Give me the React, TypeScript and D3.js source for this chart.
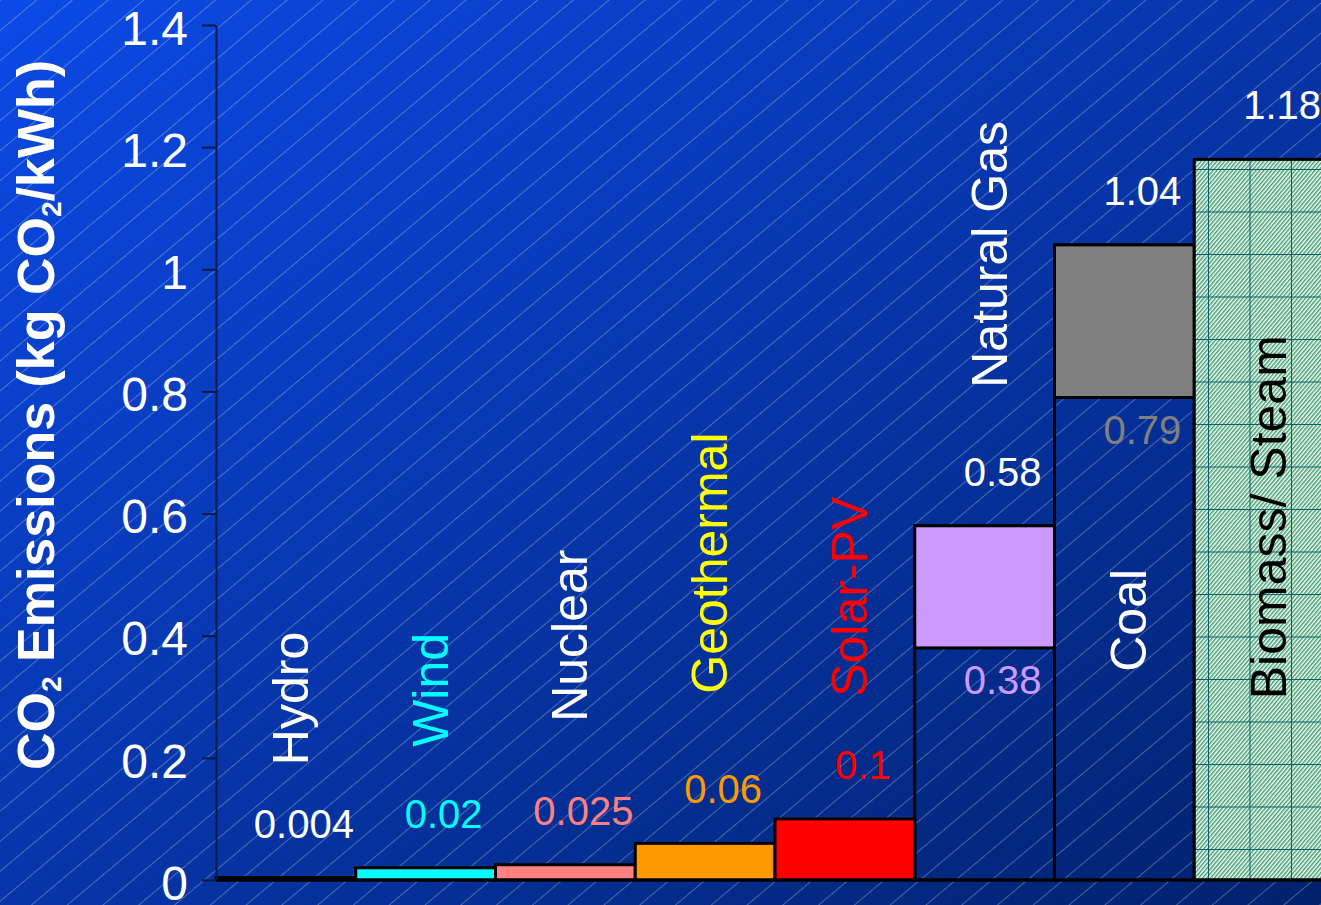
import React, { useEffect, useRef } from 'react'
import * as d3 from 'd3'

// kg CO2 per kWh
const categories = ['Hydro', 'Wind', 'Nuclear', 'Geothermal', 'Solar-PV', 'Natural Gas', 'Coal', 'Biomass/ Steam']
const highValues = [0.004, 0.02, 0.025, 0.06, 0.1, 0.58, 1.04, 1.18]
const lowValues = [0, 0, 0, 0, 0, 0.38, 0.79, 0]
const yTicks = [0, 0.2, 0.4, 0.6, 0.8, 1, 1.2, 1.4]
// where each rotated category name starts, in data units
const labelAt = [0.188, 0.218, 0.259, 0.305, 0.3, 0.806, 0.341, 0.296]

const barFill = ['#000080', '#00ffff', '#ff8080', '#ff9900', '#ff0000', '#cc99ff', '#808080', 'url(#biomass)']
const nameColor = ['#ffffff', '#00ffff', '#ffffff', '#ffff00', '#ff0000', '#ffffff', '#ffffff', '#000000']
const highColor = ['#ffffff', '#00ffff', '#ff8080', '#ff9900', '#ff0000', '#ffffff', '#ffffff', '#ffffff']
const lowColor = ['', '', '', '', '', '#cc99ff', '#808080', '']

const font = 'Liberation Sans, Arial, sans-serif'

export default function App() {
    const ref = useRef<SVGSVGElement>(null)

    useEffect(() => {
        const width = 1321, height = 905
        const svg = d3.select(ref.current)
        svg.selectAll('*').remove()

        const defs = svg.append('defs')
        const grad = defs.append('linearGradient').attr('id', 'bg')
            .attr('x1', 0).attr('y1', 0).attr('x2', 1).attr('y2', 1)
        grad.append('stop').attr('offset', '0%').attr('stop-color', '#0c4ae6')
        grad.append('stop').attr('offset', '100%').attr('stop-color', '#01216c')

        const hatch = defs.append('pattern').attr('id', 'hatch')
            .attr('patternUnits', 'userSpaceOnUse')
            .attr('width', 40).attr('height', 23)
            .attr('patternTransform', 'rotate(-40)')
        hatch.append('line')
            .attr('x1', 0).attr('x2', 40).attr('y1', 0.5).attr('y2', 0.5)
            .attr('stroke', '#ffffff').attr('stroke-opacity', 0.28).attr('stroke-width', 1)

        // biomass: green diagonal stripes on white with a graph-paper grid
        const stripes = defs.append('pattern').attr('id', 'stripes')
            .attr('patternUnits', 'userSpaceOnUse')
            .attr('width', 8).attr('height', 3)
            .attr('patternTransform', 'rotate(-50)')
        stripes.append('rect').attr('width', 8).attr('height', 3).attr('fill', '#ffffff')
        stripes.append('rect').attr('width', 8).attr('height', 1.5).attr('fill', '#3e9e6e')
        const grid = defs.append('pattern').attr('id', 'grid')
            .attr('patternUnits', 'userSpaceOnUse')
            .attr('x', 1208).attr('y', 169)
            .attr('width', 41.5).attr('height', 42.5)
        grid.append('line').attr('x1', 0.5).attr('x2', 0.5).attr('y1', 0).attr('y2', 42.5)
            .attr('stroke', '#0a5f6a').attr('stroke-width', 1)
        grid.append('line').attr('x1', 0).attr('x2', 41.5).attr('y1', 0.5).attr('y2', 0.5)
            .attr('stroke', '#0a5f6a').attr('stroke-width', 1)

        svg.append('rect').attr('width', width).attr('height', height).attr('fill', 'url(#bg)')
        svg.append('rect').attr('width', width).attr('height', height).attr('fill', 'url(#hatch)')

        const x = d3.scaleBand()
            .domain(categories)
            .range([216, 216 + 139.75 * categories.length])
            .padding(0)
        const y = d3.scaleLinear()
            .domain([0, 1.4])
            .range([880, 25])
        const bw = x.bandwidth()

        // bars
        const bars = svg.append('g')
        categories.forEach((c, i) => {
            const x0 = x(c) as number
            if (lowValues[i] > 0) {
                bars.append('rect')
                    .attr('x', x0).attr('y', y(highValues[i]))
                    .attr('width', bw).attr('height', y(0) - y(highValues[i]))
                    .attr('fill', 'none').attr('stroke', '#000').attr('stroke-width', 3)
            }
            if (i === categories.length - 1) {
                bars.append('rect')
                    .attr('x', x0).attr('y', y(highValues[i]))
                    .attr('width', bw).attr('height', y(lowValues[i]) - y(highValues[i]))
                    .attr('fill', 'url(#stripes)')
            }
            bars.append('rect')
                .attr('x', x0).attr('y', y(highValues[i]))
                .attr('width', bw).attr('height', y(lowValues[i]) - y(highValues[i]))
                .attr('fill', i === categories.length - 1 ? 'url(#grid)' : barFill[i])
                .attr('stroke', '#000').attr('stroke-width', 3)
        })

        // x baseline
        svg.append('line')
            .attr('x1', 216).attr('x2', width)
            .attr('y1', y(0)).attr('y2', y(0))
            .attr('stroke', '#000').attr('stroke-width', 3)

        // y axis
        const axis = d3.axisLeft(y)
            .tickValues(yTicks)
            .tickSize(14)
            .tickSizeOuter(0)
            .tickPadding(14)
            .tickFormat(d => String(d))
        const ag = svg.append('g')
            .attr('transform', 'translate(216,0)')
            .call(axis)
        ag.select('.domain').attr('stroke', '#061a48').attr('stroke-width', 2)
        ag.selectAll('.tick line').attr('stroke', '#061a48').attr('stroke-width', 2)
        ag.selectAll('.tick text')
            .attr('fill', '#ffffff')
            .attr('font-family', font)
            .attr('font-size', 48)
            .attr('dy', '0.4em')

        // category names
        categories.forEach((c, i) => {
            const cx = (x(c) as number) + bw / 2 + 22
            svg.append('text')
                .attr('transform', `translate(${cx},${y(labelAt[i])}) rotate(-90)`)
                .attr('font-family', font)
                .attr('font-size', 50)
                .attr('fill', nameColor[i])
                .text(c)
        })

        // value labels
        categories.forEach((c, i) => {
            const cx = (x(c) as number) + bw / 2 + 18
            svg.append('text')
                .attr('x', cx).attr('y', y(highValues[i]) - 40)
                .attr('text-anchor', 'middle')
                .attr('font-family', font)
                .attr('font-size', 40)
                .attr('fill', highColor[i])
                .text(String(highValues[i]))
            if (lowValues[i] > 0) {
                svg.append('text')
                    .attr('x', cx).attr('y', y(lowValues[i]) + 46)
                    .attr('text-anchor', 'middle')
                    .attr('font-family', font)
                    .attr('font-size', 40)
                    .attr('fill', lowColor[i])
                    .text(String(lowValues[i]))
            }
        })

        // y title
        const title = svg.append('text')
            .attr('transform', 'translate(54,415) rotate(-90)')
            .attr('text-anchor', 'middle')
            .attr('font-family', font)
            .attr('font-weight', 'bold')
            .attr('font-size', 52)
            .attr('fill', '#ffffff')
        title.append('tspan').text('CO')
        title.append('tspan').attr('font-size', 28).attr('dy', 7).text('2')
        title.append('tspan').attr('dy', -7).text(' Emissions (kg CO')
        title.append('tspan').attr('font-size', 28).attr('dy', 7).text('2')
        title.append('tspan').attr('dy', -7).text('/kWh)')
    }, [])

    return (
        <svg ref={ref} width={1321} height={905}
            style={{ position: 'absolute', left: 0, top: 0, display: 'block' }} />
    )
}
